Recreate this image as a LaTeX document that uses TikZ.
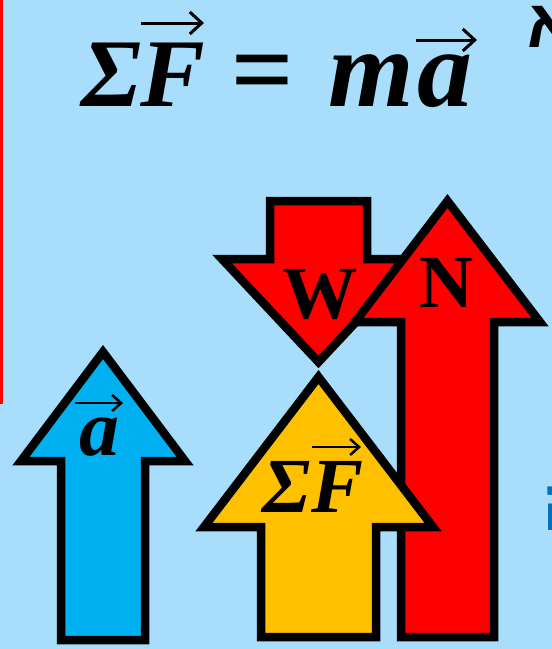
\documentclass[tikz,border=0pt]{standalone}
\usepackage{fontspec}
\usetikzlibrary{arrows.meta}
\newfontfamily\fmfont{Liberation Serif}
\newfontfamily\hebfont[Script=Hebrew]{Liberation Sans}
\definecolor{bgblue}{RGB}{168,222,252}
\definecolor{ablue}{RGB}{0,176,240}
\definecolor{fyellow}{RGB}{255,192,0}
\definecolor{tblue}{RGB}{0,112,192}
\newcommand{\fmtxt}{\fmfont\bfseries\itshape}
\begin{document}
\begin{tikzpicture}[x=1pt,y=-1pt,
  fatarrow/.style={draw=black, line width=8.5pt, line join=miter, miter limit=10},
  vecbig/.style={line width=3pt, -{Straight Barb[length=12pt,width=22pt,line join=miter]}},
  vecsmall/.style={line width=2.5pt, -{Straight Barb[length=9pt,width=16pt,line join=miter]}},
  lbl/.style={inner sep=0pt, outer sep=0pt}]
\useasboundingbox (0,0) rectangle (552,649);
\fill[bgblue] (0,0) rectangle (552,649);
\fill[red] (0,0) rectangle (3,404);
% arrows
\draw[fatarrow, fill=red] (270,201) -- (367,201) -- (367,259) -- (415,259) -- (318.5,362) -- (222,259) -- (270,259) -- cycle;
\draw[fatarrow, fill=red] (401,637) -- (401,322) -- (355,322) -- (447.5,201) -- (540,322) -- (494,322) -- (494,637) -- cycle;
\draw[fatarrow, fill=fyellow] (261,637) -- (261,527) -- (204,527) -- (318.5,377) -- (433,527) -- (376,527) -- (376,637) -- cycle;
\draw[fatarrow, fill=ablue] (61,640) -- (61,461) -- (21,461) -- (103,352) -- (185,461) -- (145,461) -- (145,640) -- cycle;
% texts
\node[lbl, anchor=base west] (formula) at (81,106)
  {\fontsize{97}{100}\selectfont\fmtxt Σ\kern-1pt F\hspace{26pt}\fontsize{110}{112}\selectfont=\hspace{35pt}m\kern4pt a};
\coordinate (vF1) at (141,23);  \coordinate (vF2) at (204,23);
\coordinate (va1) at (416,40);  \coordinate (va2) at (477,40);
\draw[vecbig] (vF1) -- (vF2);
\draw[vecbig] (va1) -- (va2);
\node[lbl, anchor=base] (wlbl) at (320,318) {\fontsize{75}{80}\selectfont\fmfont\bfseries W};
\node[lbl, anchor=base] (nlbl) at (447,307) {\fontsize{75}{80}\selectfont\fmfont\bfseries N};
\node[lbl, anchor=base] (albl) at (99,455) {\fontsize{80}{84}\selectfont\fmtxt a};
\coordinate (vs1) at (75,403); \coordinate (vs2) at (123,403);
\draw[vecsmall] (vs1) -- (vs2);
\node[lbl, anchor=base] (sflbl) at (313,512) {\fontsize{78}{82}\selectfont\fmtxt Σ\kern0pt F};
\coordinate (vy1) at (312,447); \coordinate (vy2) at (361,447);
\draw[vecsmall] (vy1) -- (vy2);
\node[lbl, anchor=base west] (heb1) at (527,47) {\fontsize{68}{70}\selectfont\hebfont\bfseries א};
\node[lbl, anchor=base west, text=tblue] (heb2) at (542,530) {\fontsize{72}{74}\selectfont\hebfont\bfseries ה};
\end{tikzpicture}
\end{document}
